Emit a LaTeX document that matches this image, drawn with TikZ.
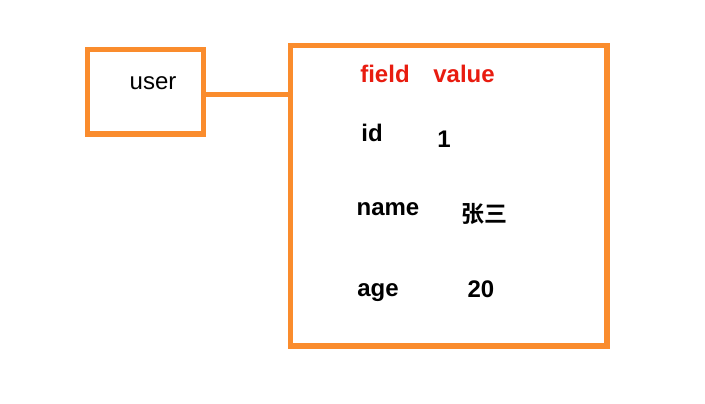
\documentclass[tikz,border=0pt]{standalone}
\usepackage{fontspec}
\setmainfont{Liberation Sans}
\newfontfamily\cjk[BoldFont={Noto Sans CJK SC Bold}]{Noto Sans CJK SC}
\usepackage{tikz}
\usetikzlibrary{calc}
\definecolor{boxorange}{RGB}{250,140,45}
\definecolor{headred}{RGB}{232,28,16}
\tikzstyle{entitybox} = [rectangle, draw=boxorange, line width=5.5pt, inner sep=0pt]
\tikzstyle{conn} = [draw=boxorange, line width=5.5pt]
\tikzstyle{head} = [anchor=base, inner sep=0pt, text=headred, font=\fontsize{24}{27}\selectfont\bfseries]
\tikzstyle{cell} = [anchor=base, inner sep=0pt, font=\fontsize{24}{27}\selectfont\bfseries]

\begin{document}
\begin{tikzpicture}[x=1pt, y=-1pt]

    \useasboundingbox (0,0) rectangle (705,404);

    \node[entitybox,
        minimum width=116pt,
        minimum height=84.5pt]
    (userbox) at (145.5,91.75) {};

    \node[entitybox,
        minimum width=316.5pt,
        minimum height=300.5pt]
    (hashbox) at (448.75,195.75) {};

    \node[anchor=base, inner sep=0pt, font=\fontsize{24}{27}\selectfont]
    (user) at (153,90) {user};

    \node[head] (field) at (385,83) {field};
    \node[head] (value) at (464,83) {value};

    \node[cell] (idkey) at (372,142) {id};
    \node[cell] (idval) at (444,147) {1};
    \node[cell] (namekey) at (388,215) {name};
    \node[inner sep=0pt, font=\fontsize{23}{26}\cjk\bfseries] (nameval) at (484,214) {张三};
    \node[cell] (agekey) at (378,296) {age};
    \node[cell] (ageval) at (481,297) {20};

    \draw [conn] ([yshift=-3pt]userbox.east) -- ([yshift=-3pt]userbox.east -| hashbox.west);

\end{tikzpicture}
\end{document}
